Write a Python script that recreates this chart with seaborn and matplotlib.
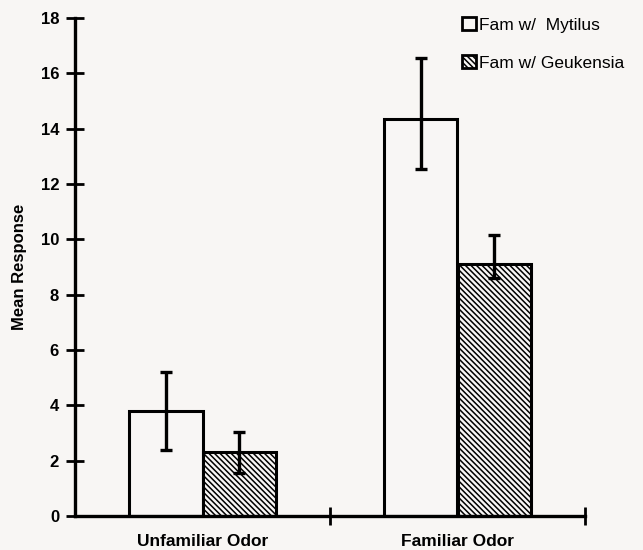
import numpy as np
import pandas as pd
import seaborn as sns
import matplotlib.pyplot as plt
from matplotlib.patches import Patch

odors = ['Unfamiliar Odor', 'Familiar Odor']
groups = ['Fam w/  Mytilus', 'Fam w/ Geukensia']
mytilus_mean = [3.8, 14.35]
geukensia_mean = [2.3, 9.12]
mytilus_err_lo = [1.4, 1.8]
mytilus_err_hi = [1.4, 2.2]
geukensia_err_lo = [0.76, 0.5]
geukensia_err_hi = [0.75, 1.04]

bg = '#f8f6f4'

df = pd.DataFrame({
    'odor': odors * 2,
    'group': [groups[0]] * 2 + [groups[1]] * 2,
    'mean': mytilus_mean + geukensia_mean,
})

sns.set_style('ticks')
plt.rcParams['font.family'] = ['Liberation Sans', 'DejaVu Sans']
plt.rcParams['text.color'] = 'black'
plt.rcParams['axes.labelcolor'] = 'black'
plt.rcParams['xtick.color'] = 'black'
plt.rcParams['ytick.color'] = 'black'
plt.rcParams['hatch.linewidth'] = 1.1

fig = plt.figure(figsize=(6.43, 5.5), dpi=100, facecolor=bg)
ax = fig.add_axes([75 / 643, 34 / 550, 510 / 643, 498 / 550])
ax.set_facecolor(bg)

sns.barplot(data=df, x='odor', y='mean', hue='group', order=odors, hue_order=groups,
            palette=[bg, bg], edgecolor='black', linewidth=2.2, width=0.58,
            errorbar=None, legend=False, ax=ax)

for bar in ax.containers[1]:
    bar.set_hatch('\\' * 6)

errs = [(mytilus_mean, mytilus_err_lo, mytilus_err_hi),
        (geukensia_mean, geukensia_err_lo, geukensia_err_hi)]
for cont, (m, lo, hi) in zip(ax.containers, errs):
    xs = [b.get_x() + b.get_width() / 2 for b in cont]
    ax.errorbar(xs, m, yerr=[lo, hi], fmt='none', ecolor='black',
                elinewidth=2.4, capsize=4, capthick=2.4, zorder=5)

ax.set_xlim(-0.5, 1.5)
ax.set_ylim(0, 18)
ax.set_yticks(np.arange(0, 19, 2))
ax.tick_params(axis='y', direction='inout', length=13, width=2, labelsize=12, pad=5)
for t in ax.get_yticklabels():
    t.set_fontweight('bold')

ax.set_xticks([0, 1])
ax.set_xticklabels(odors, fontweight='bold', fontsize=12.5)
ax.tick_params(axis='x', length=0, pad=13)
ax.set_xticks([0.5, 1.5], minor=True)
ax.tick_params(axis='x', which='minor', direction='inout', length=13, width=2)

ax.set_xlabel('')
ax.set_ylabel('Mean Response', fontweight='bold', fontsize=12, labelpad=10)

sns.despine(ax=ax)
for s in ['left', 'bottom']:
    ax.spines[s].set_linewidth(2.4)
    ax.spines[s].set_color('black')

handles = [Patch(facecolor=bg, edgecolor='black', linewidth=2, label=groups[0]),
           Patch(facecolor=bg, edgecolor='black', linewidth=2, hatch='\\' * 6, label=groups[1])]
fig.legend(handles=handles, loc='upper left', bbox_to_anchor=(455 / 643, 1 - 10 / 550),
           frameon=False, fontsize=12.5, handlelength=0.8, handleheight=0.8,
           handletextpad=0.2, labelspacing=1.3, borderaxespad=0)

fig.savefig('out.png', dpi=100, facecolor=bg)
